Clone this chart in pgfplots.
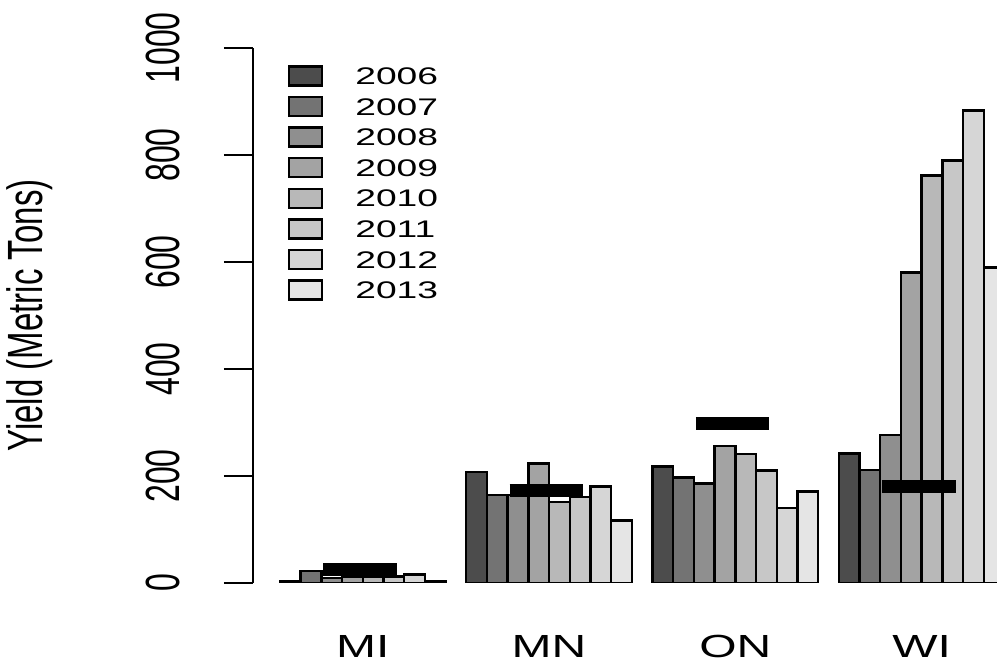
\documentclass[border=0pt]{standalone}
\usepackage{pgfplots}
\pgfplotsset{compat=1.18}
\usepackage{fontspec}
\setmainfont{Liberation Sans}
\definecolor{g1}{gray}{0.30}
\definecolor{g2}{gray}{0.45}
\definecolor{g3}{gray}{0.56}
\definecolor{g4}{gray}{0.64}
\definecolor{g5}{gray}{0.72}
\definecolor{g6}{gray}{0.78}
\definecolor{g7}{gray}{0.84}
\definecolor{g8}{gray}{0.90}
\newcommand{\xtl}[1]{\scalebox{1.5}[1]{\fontsize{16}{16}\selectfont #1}}
\newcommand{\ytl}[1]{\rotatebox{90}{\scalebox{1}[1.5]{\fontsize{16}{16}\selectfont #1}}}
\newcommand{\lgt}[1]{\scalebox{1.55}[1]{\fontsize{12}{12}\selectfont #1}}
\begin{document}
\begin{tikzpicture}
\useasboundingbox (0,0) rectangle (498.5pt,331pt);
\clip (0,0) rectangle (498.5pt,331pt);
\begin{axis}[
  at={(126.5pt,39.5pt)}, anchor=south west,
  x=10.35pt, y=0.2675pt,
  xmin=-0.3, xmax=36, ymin=0, ymax=1000,
  axis y line*=left, axis x line*=bottom,
  x axis line style={draw=none},
  y axis line style={line width=1pt, -, black},
  xtick={5,14,23,32},
  xticklabels={\xtl{MI},\xtl{MN},\xtl{ON},\xtl{WI}},
  xtick style={draw=none},
  ytick={0,200,400,600,800,1000},
  yticklabels={\ytl{0},\ytl{200},\ytl{400},\ytl{600},\ytl{800},\ytl{1000}},
  ytick style={line width=1pt, black},
  tick align=outside, major tick length=14.5pt,
  yticklabel style={anchor=east, inner sep=0pt, xshift=-22pt},
  xticklabel style={anchor=base, inner sep=0pt, yshift=-23pt},
  ylabel={\rotatebox{90}{\scalebox{1}[1.5]{\fontsize{16.5}{16.5}\selectfont Yield (Metric Tons)}}},
  every axis y label/.style={at={(axis description cs:0,0.5)}, anchor=center, rotate=0, xshift=-111.5pt},
  legend style={at={(axis cs:1.39,968)}, anchor=north west, draw=none, fill=none,
    inner sep=0pt, outer sep=0pt, row sep=4.6pt, column sep=16pt,
    nodes={inner sep=0pt, text height=8.6pt, text depth=0pt, anchor=west}},
  legend cell align=left,
  legend image code/.code={\draw[#1, line width=1.2pt] (0pt,-4.75pt) rectangle (16.5pt,4.75pt);},
  bst/.style={ybar, bar width=1, bar shift=0pt, draw=black, line width=1.2pt},
]
\addplot[bst, fill=g1] coordinates {(1.5,4) (10.5,208) (19.5,218) (28.5,242)};
\addplot[bst, fill=g2] coordinates {(2.5,22) (11.5,164) (20.5,197) (29.5,211)};
\addplot[bst, fill=g3] coordinates {(3.5,9) (12.5,165) (21.5,186) (30.5,277)};
\addplot[bst, fill=g4] coordinates {(4.5,12) (13.5,223) (22.5,256) (31.5,580)};
\addplot[bst, fill=g5] coordinates {(5.5,12) (14.5,151) (23.5,241) (32.5,762)};
\addplot[bst, fill=g6] coordinates {(6.5,12) (15.5,161) (24.5,210) (33.5,790)};
\addplot[bst, fill=g7] coordinates {(7.5,16) (16.5,180) (25.5,140) (34.5,883)};
\addplot[bst, fill=g8] coordinates {(8.5,3) (17.5,117) (26.5,171) (35.5,590)};
\addlegendentry{\lgt{2006}}
\addlegendentry{\lgt{2007}}
\addlegendentry{\lgt{2008}}
\addlegendentry{\lgt{2009}}
\addlegendentry{\lgt{2010}}
\addlegendentry{\lgt{2011}}
\addlegendentry{\lgt{2012}}
\addlegendentry{\lgt{2013}}
\addplot[forget plot, black, line width=6.5pt, line cap=butt, no marks] coordinates {(3.1,26) (6.65,26)};
\addplot[forget plot, black, line width=6.5pt, line cap=butt, no marks] coordinates {(12.1,172) (15.65,172)};
\addplot[forget plot, black, line width=6.5pt, line cap=butt, no marks] coordinates {(21.1,298) (24.65,298)};
\addplot[forget plot, black, line width=6.5pt, line cap=butt, no marks] coordinates {(30.1,181) (33.65,181)};
\end{axis}
\end{tikzpicture}
\end{document}
